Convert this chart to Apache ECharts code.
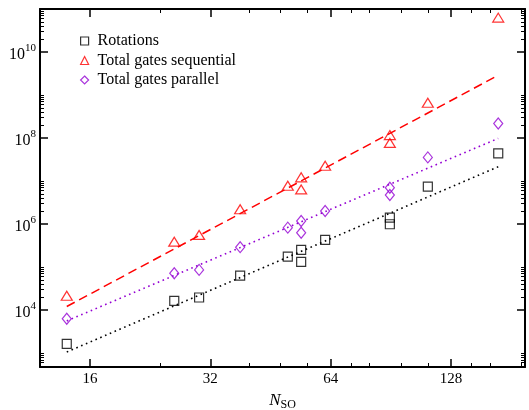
<!DOCTYPE html>
<html>
<head>
<meta charset="utf-8">
<script src="https://cdn.jsdelivr.net/npm/echarts@6/dist/echarts.min.js"></script>
<style>
  html, body { margin: 0; padding: 0; background: #fff; }
  #chart { width: 529px; height: 410px; }
</style>
</head>
<body>
<div id="chart"></div>
<script>
// ---- data ----
const nValues     = [14, 26, 30, 38, 50, 54, 54, 62, 90, 90, 112, 168];
const rotations   = [1630, 16400, 19600, 63500, 175000, 250000, 132000, 428000, 1410000, 990000, 7400000, 44000000];
const gatesSeq    = [21500, 390000, 560000, 2200000, 7800000, 12200000, 6400000, 22600000, 117000000, 77000000, 660000000, 63000000000];
const gatesPar    = [6300, 72000, 86000, 290000, 825000, 1180000, 630000, 2010000, 7000000, 4730000, 35500000, 218000000];

const fitN        = [14, 168];
const fitSeq      = [12100, 2880000000];
const fitPar      = [5600, 98000000];
const fitRot      = [1060, 21500000];

const xMajorTicks = [16, 32, 64, 128];
const xMinorTicks = [24, 40, 48, 56, 72, 80, 96, 112, 144, 160, 192];
const yMajorTicks = [1e4, 1e6, 1e8, 1e10];
const yMinorTicks = [];
[2, 4, 6, 8, 10].forEach(function (e) {
  for (let k = 2; k <= 10; k++) {
    const v = k * Math.pow(10, e);
    if (v >= 475 && v <= 1e11) yMinorTicks.push(v);
  }
});

const seriesNames = ['Rotations', 'Total gates sequential', 'Total gates parallel'];

// ---- chart ----
const FONT = 'Liberation Serif';
const X_MIN = 12, X_MAX = 196, Y_MIN = 475, Y_MAX = 1e11;

function pairs(xs, ys) { return xs.map(function (x, i) { return [x, ys[i]]; }); }

function xAxisDef(grid, pos, major, withLabels) {
  return {
    type: 'log', logBase: 2, min: X_MIN, max: X_MAX, gridIndex: grid, position: pos,
    axisLine: { show: major, onZero: false, lineStyle: { color: '#000', width: 2 } },
    axisTick: { show: true, inside: true, length: major ? 8 : 4,
      customValues: major ? xMajorTicks : xMinorTicks,
      lineStyle: { color: '#000', width: major ? 1.5 : 1 } },
    axisLabel: withLabels ? {
      show: true, customValues: xMajorTicks, margin: 5, color: '#000',
      fontFamily: FONT, fontSize: 15,
      formatter: function (v) { return String(Math.round(v)); }
    } : { show: false },
    splitLine: { show: false },
    name: withLabels ? '{n|N}{s|SO}' : '',
    nameLocation: 'middle', nameGap: 17,
    nameTextStyle: {
      color: '#000',
      rich: {
        n: { fontFamily: FONT, fontStyle: 'italic', fontSize: 17, color: '#000' },
        s: { fontFamily: FONT, fontSize: 12, color: '#000', padding: [9, 0, 0, 0] }
      }
    }
  };
}

function yAxisDef(grid, pos, major, withLabels) {
  return {
    type: 'log', logBase: 10, min: Y_MIN, max: Y_MAX, gridIndex: grid, position: pos,
    axisLine: { show: major, onZero: false, lineStyle: { color: '#000', width: 2 } },
    axisTick: { show: true, inside: true, length: major ? 8 : 4,
      customValues: major ? yMajorTicks : yMinorTicks,
      lineStyle: { color: '#000', width: major ? 1.5 : 1 } },
    axisLabel: withLabels ? {
      show: true, customValues: yMajorTicks, margin: 4, color: '#000',
      formatter: function (v) {
        const e = Math.round(Math.log10(v));
        return '{b|10}{e|' + e + '}';
      },
      rich: {
        b: { fontFamily: FONT, fontSize: 16, color: '#000', padding: [5, 0, 0, 0] },
        e: { fontFamily: FONT, fontSize: 11, color: '#000', padding: [0, 0, 8, 0] }
      }
    } : { show: false },
    splitLine: { show: false }
  };
}

const gridBox = { left: 40, right: 4, top: 9, bottom: 43, containLabel: false, outerBoundsMode: 'none' };

const chart = echarts.init(document.getElementById('chart'), null, { renderer: 'canvas' });

chart.setOption({
  animation: false,
  backgroundColor: '#fff',
  grid: [Object.assign({}, gridBox), Object.assign({}, gridBox)],
  xAxis: [
    xAxisDef(0, 'bottom', true, true),
    xAxisDef(0, 'top', true, false),
    xAxisDef(1, 'bottom', false, false),
    xAxisDef(1, 'top', false, false)
  ],
  yAxis: [
    yAxisDef(0, 'left', true, true),
    yAxisDef(0, 'right', true, false),
    yAxisDef(1, 'left', false, false),
    yAxisDef(1, 'right', false, false)
  ],
  legend: {
    data: seriesNames,
    orient: 'vertical',
    left: 75, top: 28,
    itemWidth: 8, itemHeight: 8, itemGap: 3.5,
    itemStyle: { borderWidth: 1.2 },
    textStyle: { fontFamily: FONT, fontSize: 16, color: '#000', lineHeight: 16, padding: [0, 0, 0, 4] }
  },
  series: [
    { name: 'fitSeq', type: 'line', data: pairs(fitN, fitSeq), showSymbol: false, silent: true,
      lineStyle: { color: '#ff0000', width: 1.5, type: [9, 5] }, z: 1 },
    { name: 'fitPar', type: 'line', data: pairs(fitN, fitPar), showSymbol: false, silent: true,
      lineStyle: { color: '#9400d3', width: 1.6, type: [1.6, 3.6] }, z: 1 },
    { name: 'fitRot', type: 'line', data: pairs(fitN, fitRot), showSymbol: false, silent: true,
      lineStyle: { color: '#000', width: 1.6, type: [1.6, 3.6] }, z: 1 },
    { name: seriesNames[0], type: 'scatter', data: pairs(nValues, rotations),
      symbol: 'rect', symbolSize: 9,
      itemStyle: { color: 'rgba(0,0,0,0)', borderColor: '#000', borderWidth: 1.2 }, z: 3 },
    { name: seriesNames[1], type: 'scatter', data: pairs(nValues, gatesSeq),
      symbol: 'triangle', symbolSize: [11, 9],
      itemStyle: { color: 'rgba(0,0,0,0)', borderColor: '#ff0000', borderWidth: 1.2 }, z: 3 },
    { name: seriesNames[2], type: 'scatter', data: pairs(nValues, gatesPar),
      symbol: 'diamond', symbolSize: [9, 11],
      itemStyle: { color: 'rgba(0,0,0,0)', borderColor: '#9400d3', borderWidth: 1.2 }, z: 3 }
  ]
});
</script>
</body>
</html>
